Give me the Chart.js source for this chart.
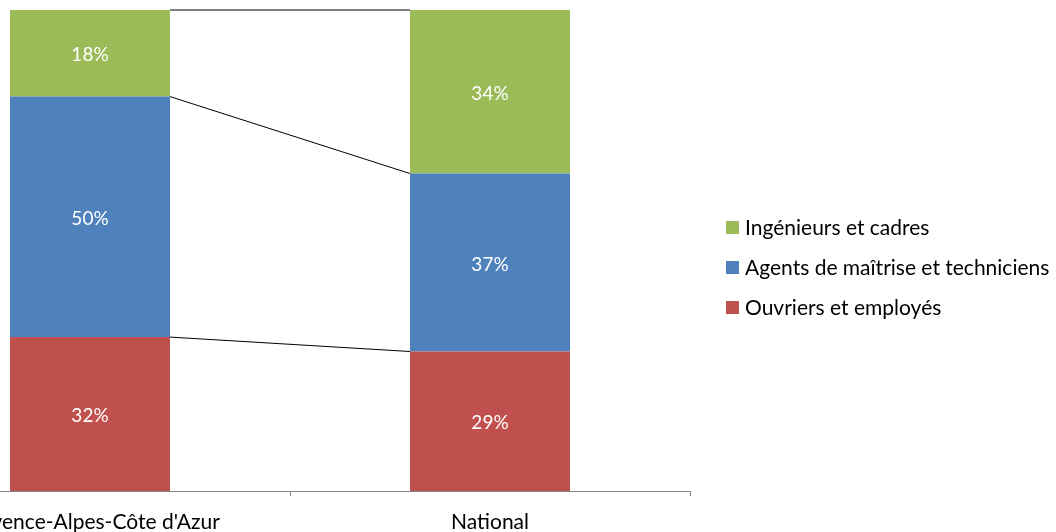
<!DOCTYPE html>
<html>
<head>
<meta charset="utf-8">
<script src="https://cdn.jsdelivr.net/npm/chart.js@4"></script>
<style>
  html, body { margin: 0; padding: 0; background: #fff; overflow: hidden; }
  #wrap { position: absolute; left: -110px; top: 0; width: 1166px; height: 532px; }
</style>
</head>
<body>
<div id="wrap"><canvas id="chart" width="1166" height="532"></canvas></div>
<script>
// Categories and series (percent)
const categories = ["Provence-Alpes-Côte d'Azur", 'National'];
const ouvriers = [32, 29];
const agents = [50, 37];
const ingenieurs = [18, 34];

const seriesNames = ['Ouvriers et employés', 'Agents de maîtrise et techniciens', 'Ingénieurs et cadres'];
const seriesColors = ['#C0504D', '#4F81BD', '#9BBB59'];

const FONT = 'Lato, "Open Sans", sans-serif';

// White percentage labels in the middle of each segment
const valueLabels = {
    id: 'valueLabels',
    afterDatasetsDraw(chart) {
        const ctx = chart.ctx;
        ctx.save();
        ctx.fillStyle = '#fff';
        ctx.font = '19px ' + FONT;
        ctx.textAlign = 'center';
        ctx.textBaseline = 'middle';
        chart.data.datasets.forEach((ds, i) => {
            chart.getDatasetMeta(i).data.forEach((bar, j) => {
                ctx.fillText(ds.data[j] + '%', bar.x, (bar.y + bar.base) / 2 + 2);
            });
        });
        ctx.restore();
    }
};

// Series lines joining the stack boundaries of neighbouring bars
const seriesLines = {
    id: 'seriesLines',
    afterDatasetsDraw(chart) {
        const ctx = chart.ctx;
        ctx.save();
        ctx.strokeStyle = '#000';
        ctx.lineWidth = 1;
        chart.data.datasets.forEach((ds, i) => {
            const bars = chart.getDatasetMeta(i).data;
            for (let j = 0; j < bars.length - 1; j++) {
                const a = bars[j], b = bars[j + 1];
                ctx.beginPath();
                ctx.moveTo(a.x + a.width / 2, a.y);
                ctx.lineTo(b.x - b.width / 2, b.y);
                ctx.stroke();
            }
        });
        ctx.restore();
    }
};

// Legend on the right, top item = last series
const sideLegend = {
    id: 'sideLegend',
    afterDraw(chart) {
        const ctx = chart.ctx;
        ctx.save();
        ctx.font = '21px ' + FONT;
        ctx.textBaseline = 'middle';
        ctx.textAlign = 'left';
        const n = chart.data.datasets.length;
        for (let k = 0; k < n; k++) {
            const ds = chart.data.datasets[n - 1 - k];
            const y = 227 + k * 40;
            ctx.fillStyle = ds.backgroundColor;
            ctx.fillRect(836, y - 6, 13, 13);
            ctx.fillStyle = '#000';
            ctx.fillText(ds.label, 855, y + 1);
        }
        ctx.restore();
    }
};

new Chart(document.getElementById('chart').getContext('2d'), {
    type: 'bar',
    data: {
        labels: categories,
        datasets: [
            { label: seriesNames[0], data: ouvriers, backgroundColor: seriesColors[0] },
            { label: seriesNames[1], data: agents, backgroundColor: seriesColors[1] },
            { label: seriesNames[2], data: ingenieurs, backgroundColor: seriesColors[2] }
        ]
    },
    options: {
        responsive: false,
        animation: false,
        layout: { padding: { top: 10, right: 366, left: 0, bottom: 0 } },
        datasets: { bar: { categoryPercentage: 1, barPercentage: 0.4 } },
        plugins: { legend: { display: false }, tooltip: { enabled: false } },
        scales: {
            x: {
                stacked: true,
                afterFit: s => { s.height = 41; },
                grid: { offset: true, drawOnChartArea: false, drawTicks: true, tickLength: 5, color: '#868686' },
                border: { display: true, color: '#868686' },
                ticks: { color: '#000', font: { size: 21, family: FONT }, padding: 14, maxRotation: 0 }
            },
            y: { stacked: true, display: false, min: 0, max: 100 }
        }
    },
    plugins: [valueLabels, seriesLines, sideLegend]
});
</script>
</body>
</html>
